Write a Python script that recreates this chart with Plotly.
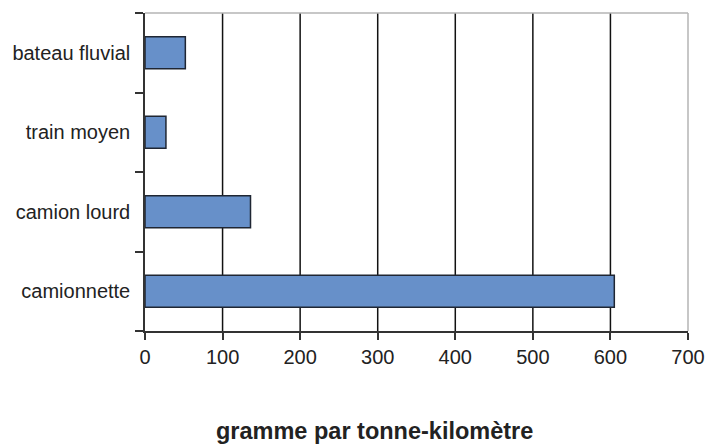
import plotly.graph_objects as go

# Emissions by transport mode (g per tonne-km)
modes = ["camionnette", "camion lourd", "train moyen", "bateau fluvial"]
emissions = [605, 136, 27, 52]
x_ticks = [0, 100, 200, 300, 400, 500, 600, 700]

FONT = "Arial, Liberation Sans, Helvetica, sans-serif"

fig = go.Figure(
    go.Bar(
        x=emissions,
        y=modes,
        orientation="h",
        marker=dict(color="#6790c9", line=dict(color="#1f2633", width=1.5)),
        hoverinfo="x+y",
    )
)

# Vertical grid lines behind the bars, interior ticks only
shapes = [
    dict(type="line", xref="x", yref="paper", x0=v, x1=v, y0=0, y1=1,
         line=dict(color="#111111", width=1.5), layer="below")
    for v in x_ticks[1:-1]
]
# Light frame on the top and right sides
shapes.append(dict(type="line", xref="paper", yref="paper", x0=0, x1=1, y0=1, y1=1,
                   line=dict(color="#b5b5b5", width=1.5), layer="above"))
shapes.append(dict(type="line", xref="paper", yref="paper", x0=1, x1=1, y0=0, y1=1,
                   line=dict(color="#b5b5b5", width=1.5), layer="above"))

fig.update_layout(
    width=708,
    height=444,
    margin=dict(l=145, r=20, t=13, b=113, autoexpand=False),
    paper_bgcolor="white",
    plot_bgcolor="white",
    bargap=0.6,
    showlegend=False,
    font=dict(family=FONT, size=20, color="#222222"),
    shapes=shapes,
    xaxis=dict(
        range=[0, 700],
        tickvals=x_ticks,
        ticktext=[str(v) for v in x_ticks],
        showgrid=False,
        zeroline=False,
        showline=True,
        linecolor="#333333",
        linewidth=1.5,
        ticks="outside",
        ticklen=7,
        tickwidth=1.5,
        tickcolor="#333333",
        tickfont=dict(size=20),
        automargin=False,
        fixedrange=True,
    ),
    yaxis=dict(
        categoryorder="array",
        categoryarray=modes,
        showgrid=False,
        zeroline=False,
        showline=True,
        linecolor="#333333",
        linewidth=1.5,
        ticks="outside",
        tickson="boundaries",
        ticklen=8,
        tickwidth=1.5,
        tickcolor="#333333",
        tickfont=dict(size=20),
        ticklabelstandoff=9,
        automargin=False,
        fixedrange=True,
    ),
    annotations=[
        dict(
            text="<b>gramme par tonne-kilomètre</b>",
            xref="paper", yref="paper",
            x=(374 - 145) / 543, y=-(431 - 331) / 318,
            xanchor="center", yanchor="middle",
            showarrow=False,
            font=dict(family=FONT, size=23.5, color="#222222"),
        )
    ],
)

fig.write_html("out.html")
